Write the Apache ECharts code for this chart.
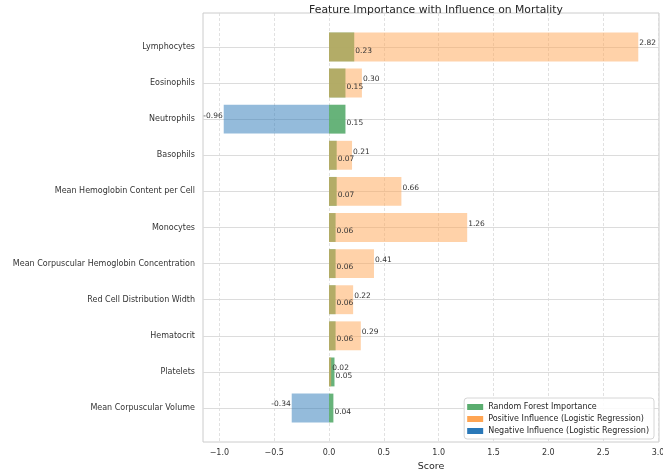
<!DOCTYPE html>
<html>
<head>
<meta charset="utf-8">
<script src="https://cdn.jsdelivr.net/npm/echarts@6/dist/echarts.min.js"></script>
<style>
  html, body { margin: 0; padding: 0; background: #fff; }
  #main { width: 663px; height: 469px; }
</style>
</head>
<body>
<div id="main"></div>
<script>
// data
var features = ['Lymphocytes', 'Eosinophils', 'Neutrophils', 'Basophils',
  'Mean Hemoglobin Content per Cell', 'Monocytes',
  'Mean Corpuscular Hemoglobin Concentration', 'Red Cell Distribution Width',
  'Hematocrit', 'Platelets', 'Mean Corpuscular Volume'];
var rfImportance = [0.23, 0.15, 0.15, 0.07, 0.07, 0.06, 0.06, 0.06, 0.06, 0.05, 0.04];
var lrCoef = [2.82, 0.30, -0.96, 0.21, 0.66, 1.26, 0.41, 0.22, 0.29, 0.02, -0.34];
var xTicks = [-1.0, -0.5, 0.0, 0.5, 1.0, 1.5, 2.0, 2.5, 3.0];
var yTicks = [0, 1, 2, 3, 4, 5, 6, 7, 8, 9, 10];

var GREEN = '#5aad6f', ORANGE = '#ffa553', BLUE = '#2a78b8';

var rfData = [], posData = [], negData = [];
features.forEach(function (f, i) {
  rfData.push([rfImportance[i], i]);
  if (lrCoef[i] >= 0) posData.push([lrCoef[i], i]);
  else negData.push([lrCoef[i], i]);
});

// one bar + its value text
function barItem(color, opacity, dy) {
  return function (params, api) {
    var v = api.value(0), y = api.value(1);
    var p0 = api.coord([0, y]);
    var p1 = api.coord([v, y]);
    var h = api.size([0, 0.8])[1];
    var tp = api.coord([v, y + dy]);
    return {
      type: 'group',
      children: [{
        type: 'rect',
        shape: { x: Math.min(p0[0], p1[0]), y: p0[1] - h / 2, width: Math.abs(p1[0] - p0[0]), height: h },
        style: { fill: color, opacity: opacity }
      }, {
        type: 'text',
        z2: 100,
        x: tp[0] + (v < 0 ? -1 : 1),
        y: tp[1],
        style: {
          text: v.toFixed(2),
          fill: '#333',
          font: '7.5px "DejaVu Sans"',
          align: v < 0 ? 'right' : 'left',
          verticalAlign: 'middle'
        }
      }]
    };
  };
}

var chart = echarts.init(document.getElementById('main'));
chart.setOption({
  animation: false,
  backgroundColor: '#fff',
  textStyle: { fontFamily: 'DejaVu Sans' },
  title: {
    text: 'Feature Importance with Influence on Mortality',
    left: 431, top: 0, textAlign: 'center',
    textStyle: { fontSize: 10.8, fontWeight: 'normal', color: '#262626', fontFamily: 'DejaVu Sans' }
  },
  legend: {
    orient: 'vertical',
    right: 9, bottom: 30,
    itemWidth: 16, itemHeight: 6, itemGap: 4,
    padding: [5, 5, 4, 3],
    backgroundColor: 'rgba(255,255,255,0.85)',
    borderColor: '#d6d6d6', borderWidth: 1, borderRadius: 3,
    textStyle: { fontSize: 8, color: '#262626', fontFamily: 'DejaVu Sans' },
    data: [
      { name: 'Random Forest Importance', icon: 'rect', itemStyle: { color: GREEN } },
      { name: 'Positive Influence (Logistic Regression)', icon: 'rect', itemStyle: { color: ORANGE } },
      { name: 'Negative Influence (Logistic Regression)', icon: 'rect', itemStyle: { color: BLUE } }
    ]
  },
  grid: {
    left: 203, right: 4, top: 13, bottom: 27,
    outerBoundsMode: 'none', containLabel: false,
    show: true, borderColor: '#cccccc', borderWidth: 1
  },
  xAxis: {
    type: 'value',
    min: -1.149, max: 3.009,
    name: 'Score', nameLocation: 'middle', nameGap: 17,
    nameTextStyle: { fontSize: 9.5, color: '#262626' },
    axisLine: { show: false },
    axisTick: { show: false, customValues: xTicks },
    axisLabel: {
      customValues: xTicks, fontSize: 8, color: '#333', margin: 7,
      formatter: function (v) { return (v < 0 ? '\u2212' : '') + Math.abs(v).toFixed(1); }
    },
    splitLine: { show: true, lineStyle: { color: '#d9d9d9', type: [3, 2], width: 0.8 } }
  },
  yAxis: {
    type: 'value',
    inverse: true,
    min: -0.94, max: 10.94,
    name: 'Features', nameLocation: 'middle', nameGap: 195,
    nameTextStyle: { fontSize: 9.5, color: '#262626' },
    axisLine: { show: false },
    axisTick: { show: false, customValues: yTicks },
    axisLabel: {
      customValues: yTicks, fontSize: 8, color: '#333', margin: 8,
      formatter: function (v) { return features[Math.round(v)] || ''; }
    },
    splitLine: { show: true, lineStyle: { color: '#dcdcdc', width: 1 } }
  },
  series: [{
    name: 'Random Forest Importance',
    type: 'custom',
    itemStyle: { color: GREEN },
    encode: { x: 0, y: 1 },
    renderItem: barItem(GREEN, 0.92, 0.1),
    data: rfData
  }, {
    name: 'Positive Influence (Logistic Regression)',
    type: 'custom',
    itemStyle: { color: ORANGE },
    encode: { x: 0, y: 1 },
    renderItem: barItem(ORANGE, 0.5, -0.1),
    data: posData
  }, {
    name: 'Negative Influence (Logistic Regression)',
    type: 'custom',
    itemStyle: { color: BLUE },
    encode: { x: 0, y: 1 },
    renderItem: barItem(BLUE, 0.5, -0.1),
    data: negData
  }]
});
</script>
</body>
</html>
